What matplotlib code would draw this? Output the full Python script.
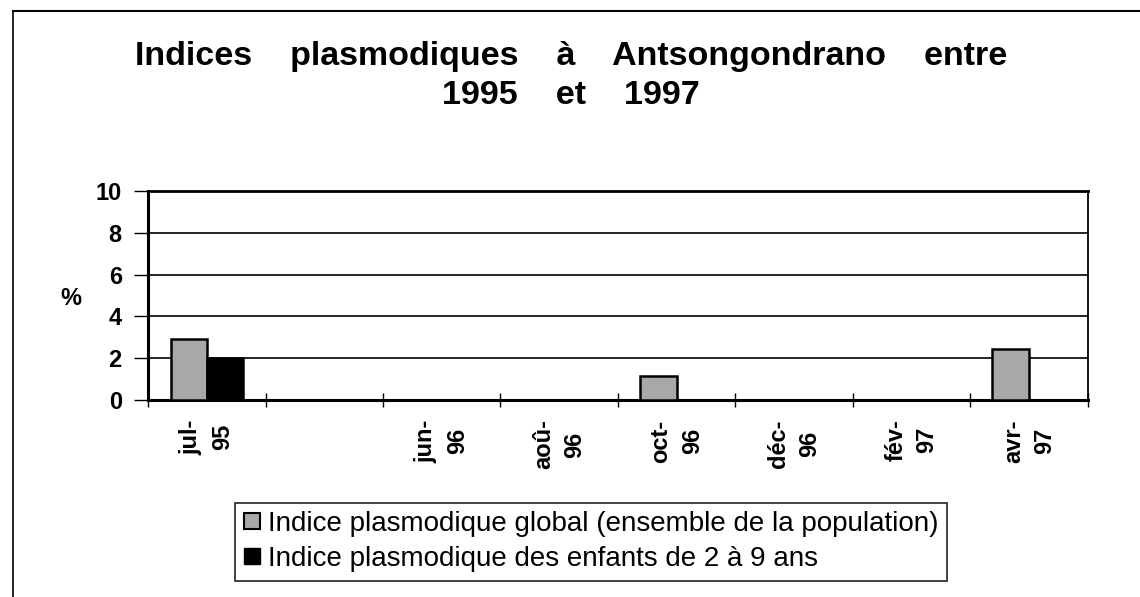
import numpy as np
import matplotlib
matplotlib.use("Agg")
from matplotlib import pyplot as plt
from matplotlib.lines import Line2D

plt.rcParams['font.family'] = ['Liberation Sans', 'DejaVu Sans']

# data
mois = ["jul-\n95", "", "jun-\n96", "aoû-\n96", "oct-\n96", "déc-\n96", "fév-\n97", "avr-\n97"]
ip_global = [2.9, 0, 0, 0, 1.15, 0, 0, 2.45]
ip_enfants = [2.0, 0, 0, 0, 0, 0, 0, 0]
yticks = [0, 2, 4, 6, 8, 10]

lab_global = "Indice plasmodique global (ensemble de la population)"
lab_enfants = "Indice plasmodique des enfants de 2 à 9 ans"

fig = plt.figure(figsize=(11.4, 5.97), dpi=100)
ax = fig.add_axes([0.130, 0.330, 0.824, 0.350])

x = np.arange(len(mois))
w = 0.31
ax.bar(x - w/2, ip_global, w, color="#a8a8a8", edgecolor="black", linewidth=1.8,
       label=lab_global, zorder=3)
ax.bar(x + w/2, ip_enfants, w, color="black", edgecolor="black", linewidth=1.8,
       label=lab_enfants, zorder=3)

ax.set_xlim(-0.5, len(mois) - 0.5)
ax.set_ylim(0, 10)
ax.set_yticks(yticks)
ax.set_yticklabels([str(v) for v in yticks], fontsize=17, fontweight="bold")
for v in yticks[1:]:
    ax.axhline(v, color="black", lw=1.2, zorder=1)

ax.set_xticks(x)
ax.set_xticklabels(mois, rotation=90, fontsize=17, fontweight="bold",
                   va="top", ha="center", multialignment="center", linespacing=1.45)
ax.tick_params(axis="x", which="major", length=0, pad=14)
ax.set_xticks(np.arange(len(mois) + 1) - 0.5, minor=True)
ax.tick_params(axis="x", which="minor", length=10, direction="inout", width=1)
ax.tick_params(axis="y", length=10, width=1, direction="out", pad=9)

for s in ["left", "bottom"]:
    ax.spines[s].set_linewidth(2.2)
ax.spines["right"].set_linewidth(1.3)
ax.spines["top"].set_linewidth(2.0)

fig.text(0.062, 0.500, "%", fontsize=17, fontweight="bold", ha="center", va="center")

fig.text(0.501, 0.905, "Indices    plasmodiques    à    Antsongondrano    entre",
         fontsize=24.5, fontweight="bold", ha="center", va="center")
fig.text(0.501, 0.840, "1995    et    1997",
         fontsize=24.5, fontweight="bold", ha="center", va="center")

h = [Line2D([], [], marker="s", ls="", markersize=11, markerfacecolor="#a8a8a8",
            markeredgecolor="black", markeredgewidth=1.5),
     Line2D([], [], marker="s", ls="", markersize=11, markerfacecolor="black",
            markeredgecolor="black")]
leg = fig.legend(h, [lab_global, lab_enfants], loc="upper left",
                 bbox_to_anchor=(0.206, 0.158), bbox_transform=fig.transFigure,
                 fontsize=20, frameon=True, fancybox=False, borderpad=0.3,
                 handlelength=0.6, handletextpad=0.3, labelspacing=0.33,
                 borderaxespad=0)
leg.get_frame().set_edgecolor("black")
leg.get_frame().set_linewidth(1.3)

# cadre de la figure (bords gauche et haut)
fig.add_artist(Line2D([0.011, 0.011], [0.0, 0.982], color="black", lw=1.2,
                      transform=fig.transFigure))
fig.add_artist(Line2D([0.011, 1.0], [0.982, 0.982], color="black", lw=1.5,
                      transform=fig.transFigure))

fig.savefig("out.png", dpi=100)
